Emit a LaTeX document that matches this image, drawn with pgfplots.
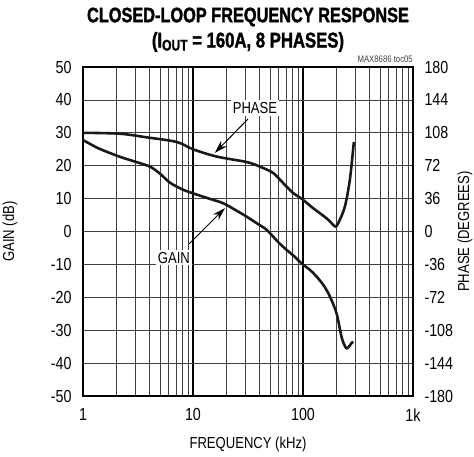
\documentclass[border=0pt]{standalone}
\usepackage{fontspec}
\setmainfont{Liberation Sans}[FakeStretch=0.82]
\newfontfamily\titlefont{Liberation Sans}[FakeStretch=0.78, FakeBold=1.5, UprightFont=*-Bold]
\usepackage{pgfplots}
\pgfplotsset{compat=1.18}
\usetikzlibrary{arrows.meta}
\begin{document}
\begin{tikzpicture}
\begin{semilogxaxis}[
  at={(0,0)}, anchor=south west, scale only axis,
  width=330bp, height=329bp,
  xmin=1, xmax=1000, ymin=-50, ymax=50,
  xtick={1,10,100,1000}, xticklabels={1,10,100,1k},
  minor xtick={2,3,4,5,6,7,8,9,20,30,40,50,60,70,80,90,200,300,400,500,600,700,800,900},
  ytick={-50,-40,-30,-20,-10,0,10,20,30,40,50},
  yticklabels={-50,-40,-30,-20,-10,0,10,20,30,40,50},
  grid=both,
  major x grid style={black, line width=1.3pt},
  minor x grid style={black!75, line width=0.75pt},
  major y grid style={black!75, line width=0.75pt},
  axis line style={line width=2.6pt},
  tick style={draw=none},
  tick label style={font=\fontsize{17.5}{17.5}\selectfont},
  xticklabel style={yshift=-9bp},
  yticklabel style={xshift=-8bp},
  xlabel={FREQUENCY (kHz)},
  ylabel={GAIN (dB)},
  every axis x label/.style={at={(axis description cs:0.5,0)}, yshift=-48bp, anchor=center, font=\fontsize{16}{16}\selectfont},
  every axis y label/.style={at={(axis description cs:0,0.5)}, xshift=-73bp, rotate=90, anchor=center, font=\fontsize{16}{16}\selectfont},
  clip=false,
]
\addplot[black!90, line width=2.6pt, smooth] coordinates {
(1,27.8) (1.4,25.2) (2.17,22.7) (3,21.2) (4.07,19.7) (5,17.6) (6.2,14.8) (8,12.8) (10,11.6) (14,10) (18.8,8.6) (25,6.3) (30.8,4.5) (38,2.5) (46.8,0.5) (59,-3.1) (71,-5.6) (85,-7.8) (97,-9.7) (115,-11.6) (133,-13.7) (155,-16.5) (176,-19.8) (202,-24.9) (224,-32) (240,-34.8) (250,-35.5) (262,-35) (275,-34) (286,-33.5)
};
\node[fill=white, inner sep=2pt, font=\fontsize{16}{16}\selectfont] at (axis cs:36.6,37.5) {PHASE};
\draw[black, line width=1pt, -{Stealth[length=13pt,width=8pt]}] (axis cs:31.6,34.2) -- (axis cs:15.8,23.9);
\node[fill=white, inner sep=2pt, font=\fontsize{16}{16}\selectfont] at (axis cs:6.7,-8) {GAIN};
\draw[black, line width=1pt, -{Stealth[length=13pt,width=8pt]}] (axis cs:9.2,-3.8) -- (axis cs:19.5,7.1);
\node[anchor=south east, inner sep=0pt, font=\fontsize{9.5}{9.5}\selectfont, text=black!75] at (axis cs:1000,51.2) {MAX8686 toc05};
\end{semilogxaxis}
\begin{semilogxaxis}[
  at={(0,0)}, anchor=south west, scale only axis,
  width=330bp, height=329bp,
  xmin=1, xmax=1000, ymin=-180, ymax=180,
  axis x line=none, axis y line*=right,
  y axis line style={line width=2.6pt},
  ytick={-180,-144,-108,-72,-36,0,36,72,108,144,180},
  yticklabels={-180,-144,-108,-72,-36,0,36,72,108,144,180},
  tick style={draw=none},
  tick label style={font=\fontsize{17.5}{17.5}\selectfont},
  yticklabel style={xshift=8bp},
  ylabel={PHASE (DEGREES)},
  every axis y label/.style={at={(axis description cs:1,0.5)}, xshift=52bp, rotate=90, anchor=center, font=\fontsize{16}{16}\selectfont},
]
\addplot[black!90, line width=2.6pt, smooth] coordinates {
(1,108) (2.17,107) (3.8,103) (7.1,98) (10,90) (16.4,82) (30.8,76) (40.5,71) (53.6,64) (66,53) (81.5,42) (97,36) (124,25.4) (164,14.4) (189,7) (198,5.5) (209,9) (240,27) (267,57) (290,98)
};
\end{semilogxaxis}
\node[font=\titlefont\fontsize{21}{21}\selectfont] at (165bp,379bp) {CLOSED-LOOP FREQUENCY RESPONSE};
\node[font=\titlefont\fontsize{21.5}{21.5}\selectfont] at (165bp,354bp) {(I\raisebox{-3bp}{\fontsize{15.5}{15.5}\selectfont OUT} = 160A, 8 PHASES)};
\pgfresetboundingbox
\path (-83bp,-61bp) rectangle (391bp,396bp);
\end{tikzpicture}
\end{document}
